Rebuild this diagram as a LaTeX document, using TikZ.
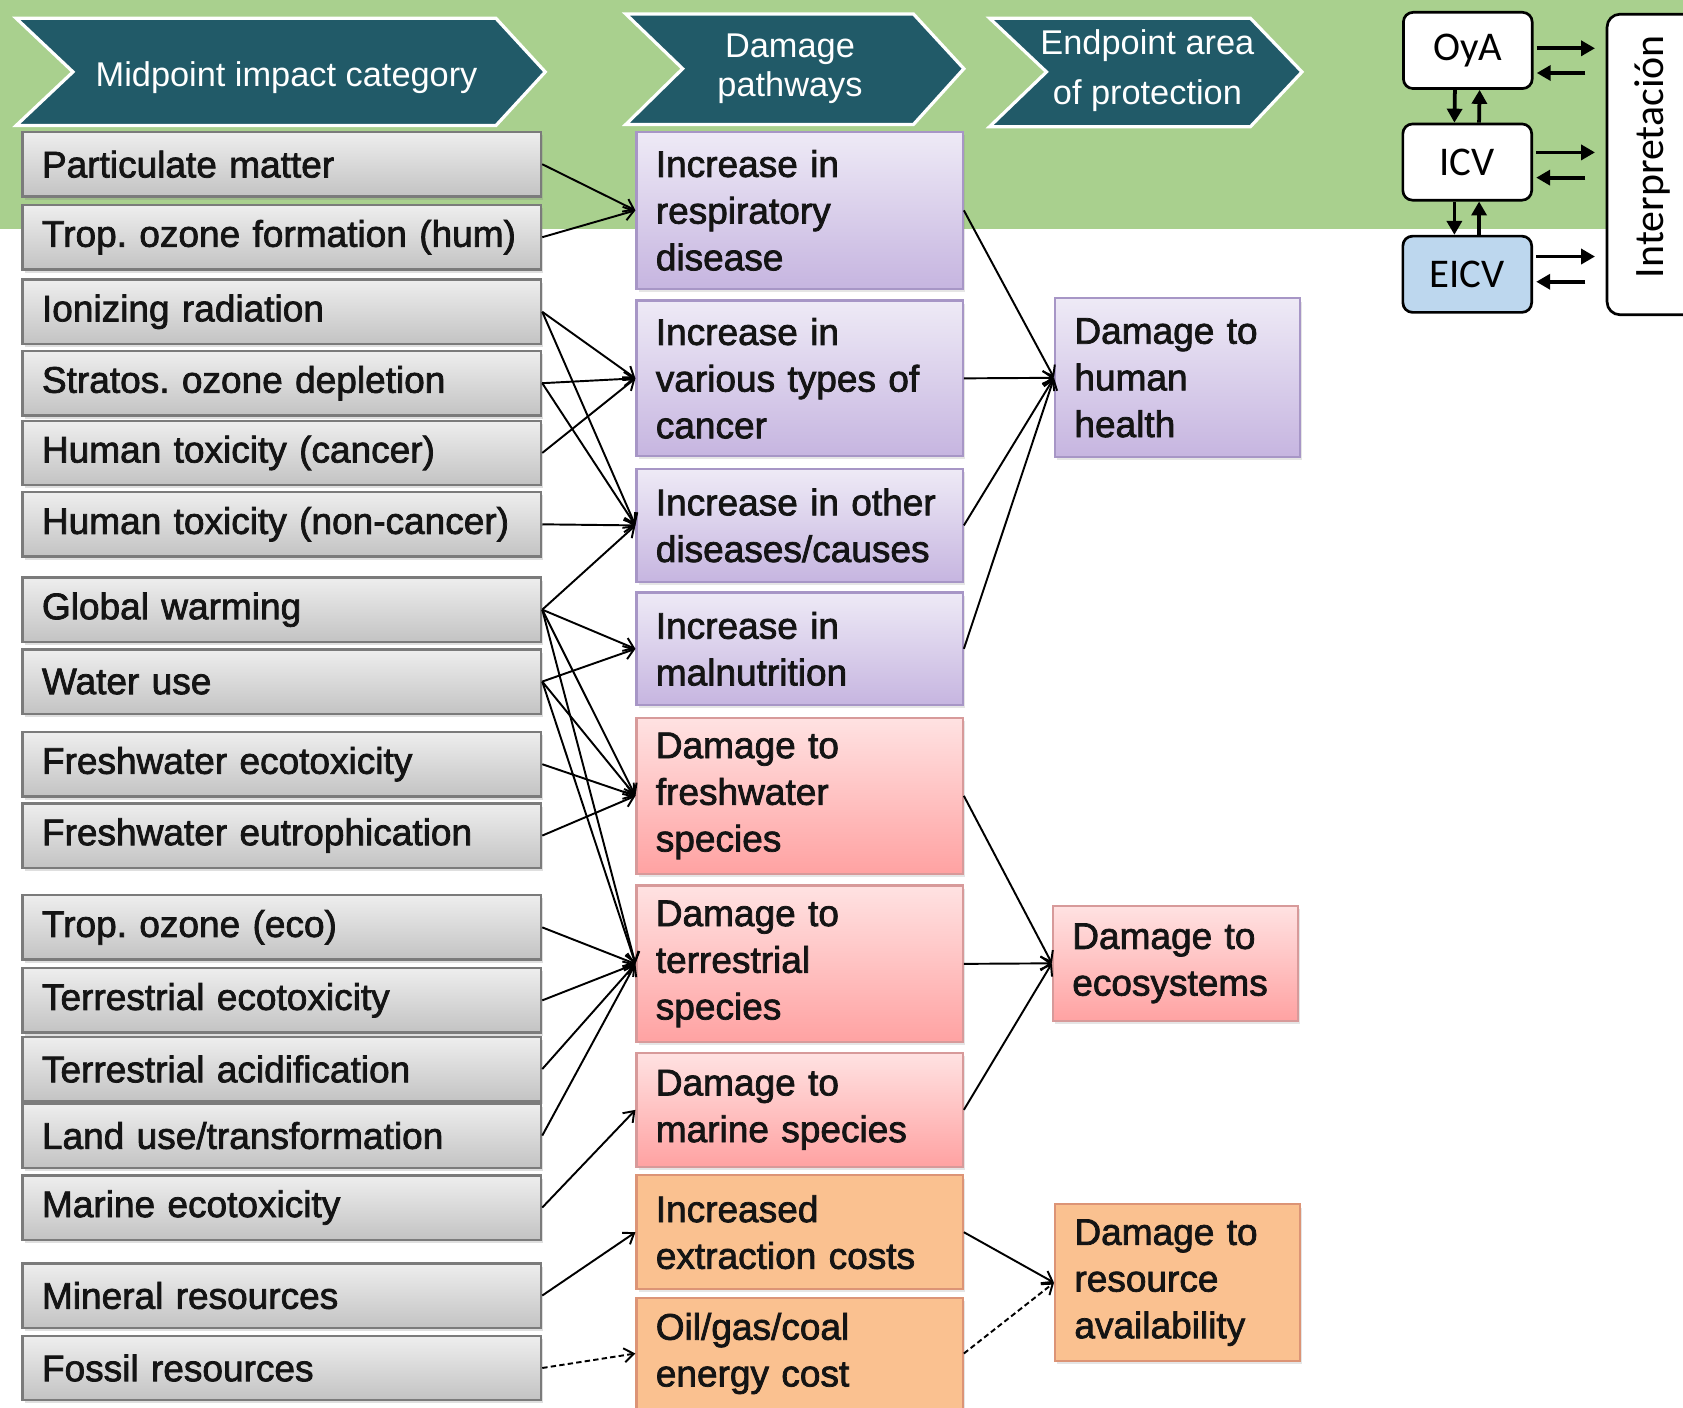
\documentclass[tikz,border=0pt]{standalone}
\usepackage{fontspec}
\setmainfont{Liberation Sans}
\newfontfamily\bodyfont[FakeBold=2]{Liberation Sans}
\newfontfamily\lcafont{Carlito}
\usetikzlibrary{arrows.meta,calc,shadows}

\definecolor{bandgreen}{HTML}{A9D08E}
\definecolor{chevfill}{HTML}{215A68}
\definecolor{graytop}{HTML}{EEEEEE}
\definecolor{graybot}{HTML}{C3C3C3}
\definecolor{grayedge}{HTML}{7B7B7B}
\definecolor{purptop}{HTML}{EEEAF6}
\definecolor{purpbot}{HTML}{C6B5E0}
\definecolor{purpedge}{HTML}{A796C6}
\definecolor{pinktop}{HTML}{FFE2E2}
\definecolor{pinkbot}{HTML}{FFA2A2}
\definecolor{pinkedge}{HTML}{D79A9A}
\definecolor{orangefill}{HTML}{FAC190}
\definecolor{orangeedge}{HTML}{DC9476}
\definecolor{eicvfill}{HTML}{BDD7EE}
\definecolor{inktext}{HTML}{141414}

\begin{document}
\frenchspacing
\begin{tikzpicture}[x=1pt,y=-1pt,
  every node/.style={inner sep=0pt},
  body/.style={font=\bodyfont\fontsize{34.5}{43.5}\selectfont, text=inktext, align=left},
  midcat/.style={body, draw=grayedge, line width=2.2pt, top color=graytop, bottom color=graybot,
     anchor=west, minimum height=60pt, text width=447pt, inner xsep=18pt,
     drop shadow={shadow xshift=2pt, shadow yshift=-3pt, opacity=.25}},
  pathbox/.style={body, line width=2pt, anchor=north west, text width=268pt, inner xsep=18pt,
     drop shadow={shadow xshift=2pt, shadow yshift=-3pt, opacity=.2}},
  endbox/.style={body, line width=2pt, anchor=north west, text width=192pt, inner xsep=18pt,
     drop shadow={shadow xshift=2pt, shadow yshift=-3pt, opacity=.2}},
  purple/.style={draw=purpedge, top color=purptop, bottom color=purpbot},
  pink/.style={draw=pinkedge, top color=pinktop, bottom color=pinkbot},
  orange/.style={draw=orangeedge, fill=orangefill},
  chevron/.style={fill=chevfill, draw=white, line width=3pt, line join=miter},
  hdr/.style={text=white, align=center},
  link/.style={line width=1.8pt, draw=black, -{Straight Barb[length=9pt,width=13pt]}},
  dlink/.style={link, dash pattern=on 5pt off 3pt},
  lcabox/.style={draw, line width=2.5pt, rounded corners=9pt, fill=white,
     minimum width=120pt, minimum height=71pt, font=\lcafont\fontsize{38}{44}\selectfont},
  fat/.style={line width=3.5pt, -{Triangle[length=13pt,width=14pt]}},
]
\useasboundingbox (0,0) rectangle (1568,1311);
\fill[white] (0,0) rectangle (1568,1311);
\fill[bandgreen] (0,0) rectangle (1568,213);

% column headers
\path[chevron] (15,17) -- (462,17) -- (508,67) -- (462,117) -- (15,117) -- (68,67) -- cycle;
\path[chevron] (583,13) -- (851,13) -- (898,64) -- (851,116) -- (583,116) -- (636,64) -- cycle;
\path[chevron] (922,17) -- (1165,17) -- (1213,67) -- (1165,118) -- (922,118) -- (975,67) -- cycle;
\node[hdr, font=\fontsize{32}{36}\selectfont] (hdrmid) at (267,72) {Midpoint impact category};
\node[hdr, font=\fontsize{32}{36}\selectfont] (hdrpath) at (736,64) {Damage\\pathways};
\node[hdr, font=\fontsize{32}{47}\selectfont] (hdrend) at (1069,66) {Endpoint area\\of protection};

% midpoint impact categories
\node[midcat] (pm)  at (20,153)   {Particulate matter};
\node[midcat] (toh) at (20,221)   {\mbox{Trop. ozone formation (hum)}};
\node[midcat] (ion) at (20,290.5) {Ionizing radiation};
\node[midcat] (sod) at (20,357)   {Stratos. ozone depletion};
\node[midcat] (htc) at (20,422)   {Human toxicity (cancer)};
\node[midcat] (htn) at (20,488.5) {\mbox{Human toxicity (non-cancer)}};
\node[midcat] (gw)  at (20,568)   {Global warming};
\node[midcat] (wu)  at (20,635)   {Water use};
\node[midcat] (fet) at (20,712)   {Freshwater ecotoxicity};
\node[midcat] (feu) at (20,778.5) {Freshwater eutrophication};
\node[midcat] (toe) at (20,864)   {Trop. ozone (eco)};
\node[midcat] (tet) at (20,932)   {Terrestrial ecotoxicity};
\node[midcat] (tac) at (20,996)   {Terrestrial acidification};
\node[midcat] (lu)  at (20,1058)  {Land use/transformation};
\node[midcat] (met) at (20,1125)  {Marine ecotoxicity};
\node[midcat] (min) at (20,1207)  {Mineral resources};
\node[midcat] (fos) at (20,1274.5){Fossil resources};

% damage pathways
\node[pathbox,purple,minimum height=146pt] (resp)   at (592,122)  {Increase in\\respiratory\\disease};
\node[pathbox,purple,minimum height=145pt] (canc)   at (592,279)  {Increase in\\various types of\\cancer};
\node[pathbox,purple,minimum height=105pt] (oth)    at (592,436)  {Increase in other\\diseases/causes};
\node[pathbox,purple,minimum height=105pt] (maln)   at (592,551)  {Increase in\\malnutrition};
\node[pathbox,pink,minimum height=145pt]   (fresh)  at (592,668)  {Damage to\\freshwater\\species};
\node[pathbox,pink,minimum height=146pt]   (terr)   at (592,824)  {Damage to\\terrestrial\\species};
\node[pathbox,pink,minimum height=106pt]   (marine) at (592,980)  {Damage to\\marine species};
\node[pathbox,orange,minimum height=106pt] (extr)   at (592,1094) {Increased\\extraction costs};
\node[pathbox,orange,minimum height=104pt] (oil)    at (592,1208) {Oil/gas/coal\\energy cost};

% endpoint areas of protection
\node[endbox,purple,minimum height=148pt] (hh)  at (982,277)  {Damage to\\human\\health};
\node[endbox,pink,minimum height=107pt]   (eco) at (980,843)  {Damage to\\ecosystems};
\node[endbox,orange,minimum height=146pt] (res) at (982,1121) {Damage to\\resource\\availability};

% midpoint -> pathway links
\draw[link] (pm.east)  -- (resp.west);
\draw[link] (toh.east) -- (resp.west);
\draw[link] (ion.east) -- (canc.west);
\draw[link] (ion.east) -- (oth.west);
\draw[link] (sod.east) -- (canc.west);
\draw[link] (sod.east) -- (oth.west);
\draw[link] (htc.east) -- (canc.west);
\draw[link] (htn.east) -- (oth.west);
\draw[link] (gw.east)  -- (oth.west);
\draw[link] (gw.east)  -- (maln.west);
\draw[link] (gw.east)  -- (fresh.west);
\draw[link] (gw.east)  -- (terr.west);
\draw[link] (wu.east)  -- (maln.west);
\draw[link] (wu.east)  -- (fresh.west);
\draw[link] (wu.east)  -- (terr.west);
\draw[link] (fet.east) -- (fresh.west);
\draw[link] (feu.east) -- (fresh.west);
\draw[link] (toe.east) -- (terr.west);
\draw[link] (tet.east) -- (terr.west);
\draw[link] (tac.east) -- (terr.west);
\draw[link] (lu.east)  -- (terr.west);
\draw[link] (met.east) -- (marine.west);
\draw[link] (min.east) -- (extr.west);
\draw[dlink] (fos.east) -- (oil.west);

% pathway -> endpoint links
\draw[link] (resp.east)   -- (hh.west);
\draw[link] (canc.east)   -- (hh.west);
\draw[link] (oth.east)    -- (hh.west);
\draw[link] (maln.east)   -- (hh.west);
\draw[link] (fresh.east)  -- (eco.west);
\draw[link] (terr.east)   -- (eco.west);
\draw[link] (marine.east) -- (eco.west);
\draw[link] (extr.east)   -- (res.west);
\draw[dlink] (oil.east)   -- (res.west);

% LCA phases
\node[draw, line width=2.5pt, rounded corners=12pt, fill=white, minimum width=110pt,
      minimum height=280pt, anchor=north west] (interp) at (1496,12) {};
\node[font=\lcafont\fontsize{39}{44}\selectfont, rotate=90] (interptxt) at (1540,146) {Interpretación};
\node[lcabox] (oya)  at (1367.5,47)  {OyA};
\node[lcabox] (icv)  at (1367,151)   {ICV};
\node[lcabox, fill=eicvfill] (eicv) at (1367,255.5) {EICV};

\draw[fat] ($(oya.south)+(-12,0)$) -- ($(icv.north)+(-12,0)$);
\draw[fat] ($(icv.north)+(11,0)$) -- ($(oya.south)+(11,0)$);
\draw[fat] ($(icv.south)+(-12,0)$) -- ($(eicv.north)+(-12,0)$);
\draw[fat] ($(eicv.north)+(11,0)$) -- ($(icv.south)+(11,0)$);

\draw[fat, shorten <=3pt, shorten >=10pt] ($(oya.east)+(0,-2)$) -- ($(oya.east -| interp.west)+(0,-2)$);
\draw[fat, shorten <=19pt, shorten >=3pt] ($(oya.east -| interp.west)+(0,21)$) -- ($(oya.east)+(0,21)$);
\draw[fat, shorten <=3pt, shorten >=10pt] ($(icv.east)+(0,-9)$) -- ($(icv.east -| interp.west)+(0,-9)$);
\draw[fat, shorten <=19pt, shorten >=3pt] ($(icv.east -| interp.west)+(0,14.5)$) -- ($(icv.east)+(0,14.5)$);
\draw[fat, shorten <=3pt, shorten >=10pt] ($(eicv.east)+(0,-16.5)$) -- ($(eicv.east -| interp.west)+(0,-16.5)$);
\draw[fat, shorten <=19pt, shorten >=3pt] ($(eicv.east -| interp.west)+(0,7)$) -- ($(eicv.east)+(0,7)$);
\end{tikzpicture}
\end{document}
